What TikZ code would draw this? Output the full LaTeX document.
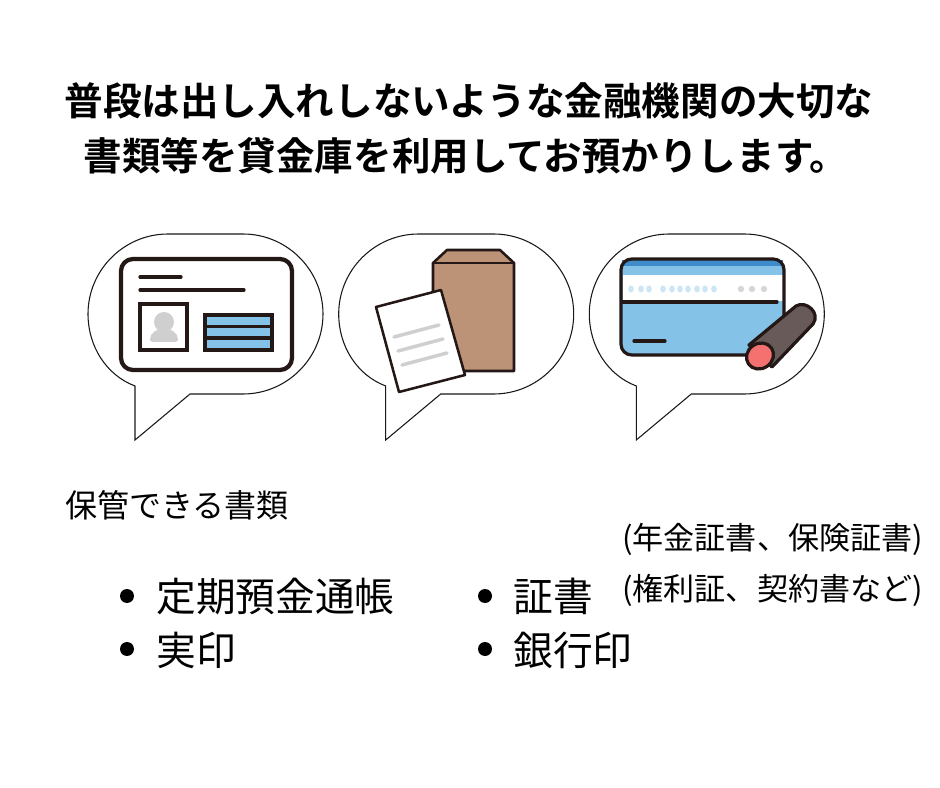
\documentclass[tikz,border=0pt]{standalone}
\usepackage{fontspec}
\setmainfont{Noto Sans CJK JP}[BoldFont={Noto Sans CJK JP Bold}]
\tikzstyle{bubble}=[draw=black!90, line width=0.8pt, fill=white]
\tikzstyle{ink}=[draw=inkDark, line width=2.4pt, line join=round, line cap=round]
\tikzstyle{title}=[inner sep=0pt, anchor=west, font=\bfseries\fontsize{28.9pt}{32pt}\selectfont]
\tikzstyle{body}=[inner sep=0pt, anchor=west, text=black]
\tikzstyle{dotmark}=[circle, fill=black, inner sep=0pt, minimum size=10.5pt]
\definecolor{inkDark}{HTML}{231815}
\definecolor{skyBlue}{HTML}{85C2E8}
\definecolor{topBlue}{HTML}{3F8CCB}
\definecolor{paleBlue}{HTML}{CDE6F5}
\definecolor{kraft}{HTML}{BC9377}
\definecolor{sealGrey}{HTML}{675A58}
\definecolor{sealRed}{HTML}{F4716F}
\definecolor{softGrey}{HTML}{CFCFCF}
\begin{document}
\begin{tikzpicture}[x=0.75pt, y=-0.75pt]

	\useasboundingbox (0,0) rectangle (940,788);
	\fill[white] (0,0) rectangle (940,788);

	% Titel
	\node(line1) at (64.5,101) [title] {普段は出し入れしないような金融機関の大切な};
	\node(line2) at (83.5,156) [title] {書類等を貸金庫を利用してお預かりします。};

	% Sprechblasen
	\foreach \dx in {0,250.7,501.3}
		{
			\draw[bubble, shift={(\dx*0.75pt,0)}] (135,386) .. controls (106,375) and (88,346) .. (88,314)
				.. controls (88,270) and (124,234) .. (168,234) -- (243,234)
				.. controls (287,234) and (323,270) .. (323,314)
				.. controls (323,358) and (287,394) .. (243,394) -- (190,394) -- (135,440) -- cycle;
		}

	% Ausweis
	\draw[ink, line width=3.2pt, rounded corners=9pt] (121,259) rectangle (292,370);
	\draw[ink] (140,277) -- (181,277);
	\draw[ink] (140,290) -- (244,290);
	\draw[ink, line join=miter, line width=2.8pt, fill=white] (140,304) rectangle (187,350);
	\fill[softGrey] (164,322) circle (10);
	\fill[softGrey, rounded corners=2pt] (150,342) .. controls (150,333) and (157,329) .. (164,329) .. controls (171,329) and (178,333) .. (178,342) -- cycle;
	\draw[ink, line join=miter, line width=2.8pt, fill=skyBlue] (205,315) rectangle (272,350);
	\draw[ink] (205,326.5) -- (272,326.5);
	\draw[ink] (205,338) -- (272,338);

	% Umschlag
	\draw[ink, line width=1.9pt, fill=kraft] (433,263) -- (447,250) -- (500,250) -- (514,263) -- (514,371) -- (433,371) -- cycle;
	\draw[ink, line width=1.9pt] (433,263) -- (514,263);
	\draw[ink, line width=1.9pt, fill=white] (376,307) -- (441,290) -- (465,375) -- (399,392) -- cycle;
	\foreach \i in {0,1,2}
		{
			\draw[line width=2.6pt, softGrey, line cap=round] (394+\i*4,337+\i*14) -- (439+\i*4,325+\i*14);
		}

	% Sparbuch
	\fill[skyBlue, rounded corners=8pt] (621,259) rectangle (784,355);
	\fill[topBlue] (622,260) rectangle (783,266);
	\fill[white] (623,275) rectangle (783,301);
	\draw[ink, rounded corners=8pt] (621,259) rectangle (784,355);
	\draw[ink] (622,302) -- (777,302);
	\draw[ink] (634,341) -- (665,341);
	\foreach \x in {631,641,649,663,672,680,688,697,705,714}
		{
			\fill[paleBlue] (\x,289) circle [x radius=2.8, y radius=3.6];
		}
	\foreach \x in {741,752,764}
		{
			\fill[softGrey!85] (\x,289) circle (3.2);
		}

	% Stempel
	\draw[ink, fill=sealGrey] (749,345) -- (796,306) .. controls (806,300) and (821,313) .. (813,324) -- (772,367) -- cycle;
	\draw[ink, fill=sealRed, rotate around={35:(760,356)}] (760,356) circle [x radius=14, y radius=12.5];

	% Listen
	\node(head) at (65,505) [body, font=\fontsize{24pt}{28pt}\selectfont] {保管できる書類};
	\node(markA) at (127,596) [dotmark] {};
	\node(itemA) at (156,596) [body, font=\fontsize{29.8pt}{34pt}\selectfont] {定期預金通帳};
	\node(markB) at (127,649) [dotmark] {};
	\node(itemB) at (156,650) [body, font=\fontsize{29.8pt}{34pt}\selectfont] {実印};
	\node(markC) at (485,596) [dotmark] {};
	\node(itemC) at (513,596) [body, font=\fontsize{29.8pt}{34pt}\selectfont] {証書};
	\node(markD) at (485,649) [dotmark] {};
	\node(itemD) at (513,650) [body, font=\fontsize{29.8pt}{34pt}\selectfont] {銀行印};
	\node(noteA) at (622,539) [body, font=\fontsize{23.3pt}{27pt}\selectfont] {(年金証書、保険証書)};
	\node(noteB) at (622,590) [body, font=\fontsize{23.3pt}{27pt}\selectfont] {(権利証、契約書など)};

\end{tikzpicture}
\end{document}
